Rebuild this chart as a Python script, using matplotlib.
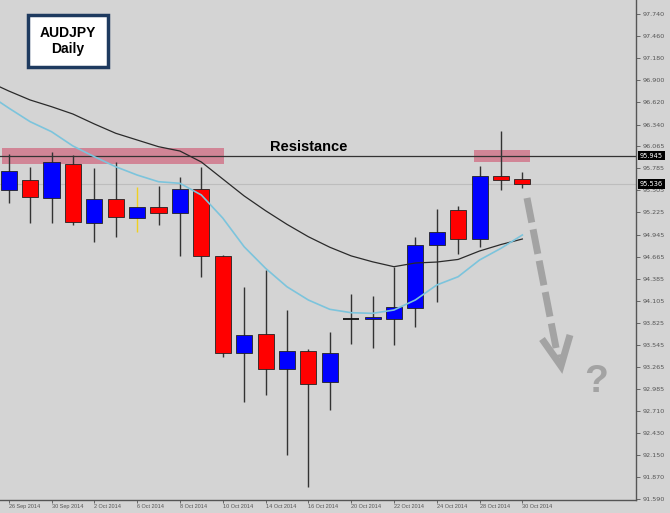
import numpy as np
import matplotlib.pyplot as plt
from matplotlib.patches import Rectangle
import matplotlib.transforms as mtransforms

# daily AUDJPY candles, 26 Sep - 30 Oct 2014
dates = ['26 Sep 2014', '29 Sep 2014', '30 Sep 2014', '1 Oct 2014', '2 Oct 2014',
         '3 Oct 2014', '6 Oct 2014', '7 Oct 2014', '8 Oct 2014', '9 Oct 2014',
         '10 Oct 2014', '13 Oct 2014', '14 Oct 2014', '15 Oct 2014', '16 Oct 2014',
         '17 Oct 2014', '20 Oct 2014', '21 Oct 2014', '22 Oct 2014', '23 Oct 2014',
         '24 Oct 2014', '27 Oct 2014', '28 Oct 2014', '29 Oct 2014', '30 Oct 2014']
opens = [95.510, 95.637, 95.412, 95.840, 95.096, 95.392, 95.151, 95.291, 95.222, 95.519,
         94.677, 93.448, 93.681, 93.238, 93.473, 93.073, 93.871, 93.880, 93.875, 94.011,
         94.809, 95.257, 94.889, 95.688, 95.653]
closes = [95.747, 95.425, 95.869, 95.101, 95.400, 95.164, 95.291, 95.215, 95.519, 94.677,
          93.448, 93.676, 93.238, 93.466, 93.051, 93.440, 93.871, 93.900, 94.023, 94.813,
          94.974, 94.889, 95.688, 95.641, 95.586]
highs = [95.966, 95.805, 95.995, 95.954, 95.793, 95.861, 95.544, 95.561, 95.679, 95.805,
         94.680, 94.284, 94.496, 93.989, 93.491, 93.707, 94.192, 94.167, 94.538, 94.918,
         95.265, 95.307, 95.818, 96.262, 95.742]
lows = [95.342, 95.096, 95.088, 95.067, 94.855, 94.918, 94.982, 95.067, 94.674, 94.411,
        93.390, 92.827, 92.912, 92.151, 91.742, 92.722, 93.558, 93.504, 93.546, 93.770,
        94.094, 94.695, 94.791, 95.510, 95.532]

# moving averages, first value is the day before 26 Sep
slow_ma = [96.89, 96.765, 96.651, 96.566, 96.473, 96.347, 96.229, 96.144, 96.059, 96.004,
           95.865, 95.650, 95.435, 95.248, 95.075, 94.918, 94.785, 94.675, 94.600, 94.538,
           94.585, 94.597, 94.630, 94.737, 94.819, 94.889]
fast_ma = [96.73, 96.549, 96.376, 96.249, 96.068, 95.932, 95.805, 95.700, 95.615, 95.595,
           95.447, 95.155, 94.791, 94.518, 94.284, 94.116, 93.998, 93.955, 93.947, 93.989,
           94.116, 94.306, 94.411, 94.623, 94.771, 94.940]

resistance = 95.945
bid_label = '95.536'
zone_left = (-0.31, 10.06, 95.836, 96.039)
zone_right = (21.74, 24.36, 95.861, 96.016)
yellow_wick = 6

price_ticks = [91.590, 91.870, 92.150, 92.430, 92.710, 92.985, 93.265, 93.545, 93.825,
               94.105, 94.385, 94.665, 94.945, 95.225, 95.505, 95.785, 96.065, 96.340,
               96.620, 96.900, 97.180, 97.460, 97.740]

bg = '#d4d4d4'
fig = plt.figure(figsize=(6.7, 5.13), dpi=100, facecolor=bg)
ax = fig.add_axes([0, 0.0253, 636 / 670, 0.9747], facecolor=bg)

x = np.arange(len(dates))
o = np.array(opens)
c = np.array(closes)

# wicks
wick_cols = ['#333333'] * len(x)
wick_cols[yellow_wick] = '#f0d020'
ax.vlines(x, lows, highs, colors=wick_cols, lw=1, zorder=2)

# bodies
body_cols = np.where(c > o, '#0000ff', '#ff0000')
doji = np.abs(c - o) < 1e-6
ax.bar(x[~doji], (c - o)[~doji], bottom=o[~doji], width=0.75,
       color=body_cols[~doji], edgecolor='#222222', lw=0.6, zorder=3)
ax.hlines(c[doji], x[doji] - 0.375, x[doji] + 0.375, colors='#111111', lw=1.3, zorder=3)

# moving averages
xm = np.arange(-1, len(dates))
ax.plot(xm, slow_ma, color='#2a2a2a', lw=0.9, zorder=4)
ax.plot(xm, fast_ma, color='#7cc4dc', lw=1.2, zorder=4)

# resistance zones
for x0, x1, y0, y1 in (zone_left, zone_right):
    ax.add_patch(Rectangle((x0, y0), x1 - x0, y1 - y0, facecolor='#d18596',
                           edgecolor='none', zorder=1))

ax.axhline(resistance, color='#333333', lw=0.9, zorder=1.5)
ax.axhline(c[-1], color='#bdbdbd', lw=0.8, zorder=1.2)

ax.set_xlim(-0.407, 29.31)
ax.set_ylim(91.581, 97.918)

ax.yaxis.tick_right()
ax.set_yticks(price_ticks, ['%.3f' % v for v in price_ticks])
ax.tick_params(axis='y', direction='out', length=3, width=0.6, colors='#555555',
               labelsize=4.6, pad=2)
ax.set_xticks(x[::2], dates[::2], ha='left', family='Liberation Sans')
ax.tick_params(axis='x', direction='out', length=2.5, width=0.6, colors='#555555',
               labelsize=4.0, pad=0.5)
for s in ('top', 'left'):
    ax.spines[s].set_visible(False)
for s in ('right', 'bottom'):
    ax.spines[s].set_color('#555555')
    ax.spines[s].set_linewidth(1)

# price boxes on the axis
trans = mtransforms.blended_transform_factory(ax.transAxes, ax.transData)
for val, txt in ((resistance, '%.3f' % resistance), (c[-1], bid_label)):
    ax.text(1.006, val, txt, transform=trans, fontsize=4.8, color='white',
            va='center', ha='left', zorder=6,
            bbox=dict(facecolor='black', edgecolor='none', pad=1.2))

# overlay in pixel coordinates for the annotations
ov = fig.add_axes([0, 0, 1, 1], facecolor='none')
ov.set_xlim(0, 670)
ov.set_ylim(513, 0)
ov.axis('off')

ov.add_patch(Rectangle((27.5, 14.5), 80.5, 52.5, facecolor='white',
                       edgecolor='#1e3a5f', lw=2.5))
ov.text(67.5, 33, 'AUDJPY', ha='center', va='center', fontsize=10,
        fontweight='bold', family='Liberation Sans')
ov.text(67.5, 49.5, 'Daily', ha='center', va='center', fontsize=10,
        fontweight='bold', family='Liberation Sans')

ov.text(309, 147, 'Resistance', ha='center', va='center', fontsize=10.5,
        fontweight='bold', family='Liberation Sans')

ov.plot([527, 558], [198, 358], color='#a3a3a3', lw=5,
        linestyle=(0, (3.6, 1.0)), solid_capstyle='butt', dash_capstyle='butt')
ov.plot([542, 561, 570], [339, 366, 335], color='#a3a3a3', lw=5,
        solid_joinstyle='miter', solid_capstyle='butt')
ov.text(596, 382, '?', ha='center', va='center', fontsize=28, fontweight='bold',
        color='#a3a3a3', family='Liberation Sans')

fig.savefig('out.png', dpi=100, facecolor=bg)
